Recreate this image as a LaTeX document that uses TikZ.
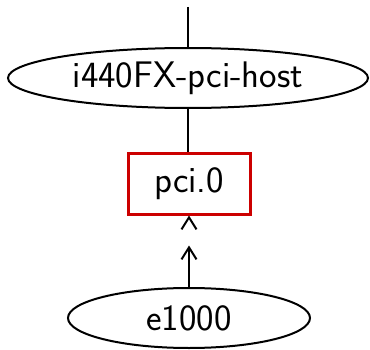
\documentclass[tikz,border=0pt]{standalone}
\usepackage{fontspec}
\usetikzlibrary{arrows.meta, positioning, shapes.geometric, decorations.markings}
\usepackage{xcolor}
\definecolor{buscolor}{RGB}{204,0,0}
\tikzset{
  dev/.style   = {ellipse, draw=black, line width=2pt, inner sep=0pt,
                  minimum height=60pt, font=\fontsize{37}{40}\selectfont\sffamily},
  bus/.style   = {rectangle, draw=buscolor, line width=3pt, inner sep=0pt,
                  minimum width=122pt, minimum height=61pt,
                  font=\fontsize{37}{40}\selectfont\sffamily},
  link/.style  = {line width=2pt, black},
  barb/.tip    = {Straight Barb[length=12pt,width=15pt]},
  plug/.style  = {line width=2pt, black, -barb, shorten >=30pt,
                  postaction={decorate},
                  decoration={markings, mark=at position 1 with {\arrow{barb}}}},
}
\begin{document}
\begin{tikzpicture}[x=1pt, y=1pt]
  \useasboundingbox (0,0) rectangle (370,349);
  % devices and bus
  \coordinate (up) at (188,342);
  \node[dev, minimum width=360pt] (host) at (188,271) {i440FX-pci-host\hspace{32pt}};
  \node[bus] (pci0) at (189,165.5) {pci.0\hspace{4pt}};
  \node[dev, minimum width=242pt] (nic) at (189,31) {e1000\hspace{30pt}};
  % connections
  \draw[link] (up) -- (host);
  \draw[link] (host) -- (host.south |- pci0.north);
  \draw[plug] (nic.north) -- (pci0.south);
\end{tikzpicture}
\end{document}
